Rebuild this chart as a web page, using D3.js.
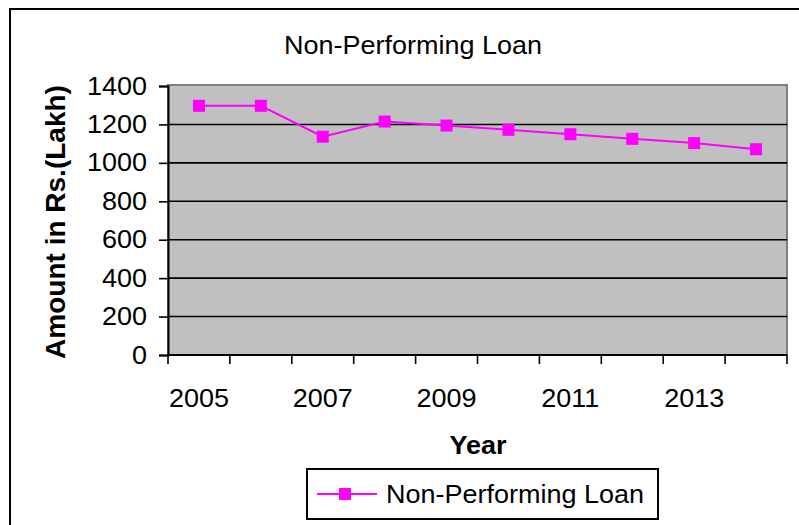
<!DOCTYPE html>
<html>
<head>
<meta charset="utf-8">
<script src="https://cdn.jsdelivr.net/npm/d3@7"></script>
<style>
  html, body { margin: 0; padding: 0; background: #fff; }
  svg { display: block; font-family: Arial, "Liberation Sans", sans-serif; }
</style>
</head>
<body>
<svg id="chart" width="799" height="525"></svg>
<script>
// Non-performing loan amounts, Rs. lakh, by year
const years = [2005, 2006, 2007, 2008, 2009, 2010, 2011, 2012, 2013, 2014];
const npl = [1297, 1297, 1136, 1215, 1194, 1172, 1149, 1125, 1103, 1071];
const yTicks = [0, 200, 400, 600, 800, 1000, 1200, 1400];
const xLabelYears = [2005, 2007, 2009, 2011, 2013];
const seriesName = "Non-Performing Loan";

const svg = d3.select("#chart");
const FS = 25;              // base text size
const SX = 1.08;            // horizontal stretch of the text glyphs
const plot = { left: 168, right: 787, top: 86, bottom: 355 };

const x = d3.scaleBand().domain(years).range([plot.left, plot.right]).padding(0);
const y = d3.scaleLinear().domain([0, 1400]).range([plot.bottom, plot.top]);

// outer frame
svg.append("rect")
  .attr("x", 10).attr("y", 9).attr("width", 800).attr("height", 530)
  .attr("fill", "#fff").attr("stroke", "#000").attr("stroke-width", 2);

// title
svg.append("text")
  .attr("transform", `translate(413,54) scale(${SX},1)`)
  .attr("text-anchor", "middle")
  .attr("font-size", FS)
  .attr("fill", "#000")
  .text("Non-Performing Loan");

// plot background
svg.append("rect")
  .attr("x", plot.left).attr("y", plot.top - 1)
  .attr("width", plot.right - plot.left).attr("height", plot.bottom - plot.top + 1)
  .attr("fill", "#c0c0c0").attr("stroke", "#808080").attr("stroke-width", 2);

// gridlines
svg.append("g").selectAll("line")
  .data(yTicks.filter(d => d > 0 && d < 1400))
  .join("line")
  .attr("x1", plot.left).attr("x2", plot.right)
  .attr("y1", d => y(d)).attr("y2", d => y(d))
  .attr("stroke", "#000").attr("stroke-width", 1.6);

// y axis
const yAxis = svg.append("g")
  .attr("transform", `translate(${plot.left},0)`)
  .call(d3.axisLeft(y).tickValues(yTicks).tickFormat(d3.format("d"))
    .tickSize(9).tickPadding(12));
yAxis.select(".domain").attr("stroke", "#000").attr("stroke-width", 2);
yAxis.selectAll(".tick line").attr("stroke", "#000").attr("stroke-width", 1.6);
yAxis.selectAll(".tick text")
  .attr("font-size", FS).attr("font-family", 'Arial, "Liberation Sans", sans-serif')
  .attr("fill", "#000")
  .each(function () {
    const t = d3.select(this);
    const tx = +t.attr("x");
    t.attr("x", 0).attr("transform", `translate(${tx},0) scale(${SX},1)`);
  });

// x axis: baseline, boundary ticks, every other year labelled
svg.append("line")
  .attr("x1", plot.left - 1).attr("x2", plot.right)
  .attr("y1", plot.bottom).attr("y2", plot.bottom)
  .attr("stroke", "#000").attr("stroke-width", 2);
const edges = years.map(d => x(d)).concat([x.range()[1]]);
svg.append("g").selectAll("line")
  .data(edges)
  .join("line")
  .attr("x1", d => d).attr("x2", d => d)
  .attr("y1", plot.bottom).attr("y2", plot.bottom + 9)
  .attr("stroke", "#000").attr("stroke-width", 1.6);
svg.append("g").selectAll("text")
  .data(xLabelYears)
  .join("text")
  .attr("transform", d => `translate(${x(d) + x.bandwidth() / 2},407) scale(${SX},1)`)
  .attr("text-anchor", "middle")
  .attr("font-size", FS)
  .attr("fill", "#000")
  .text(d => d);

// axis titles
svg.append("text")
  .attr("transform", `translate(478,454) scale(${SX},1)`)
  .attr("text-anchor", "middle")
  .attr("font-size", FS).attr("font-weight", "bold")
  .attr("fill", "#000")
  .text("Year");
svg.append("text")
  .attr("transform", "translate(65,222) rotate(-90)")
  .attr("text-anchor", "middle")
  .attr("font-size", 28).attr("font-weight", "bold")
  .attr("fill", "#000")
  .text("Amount in Rs.(Lakh)");

// series line and markers
const cx = d => x(d) + x.bandwidth() / 2;
const pts = years.map((yr, i) => [cx(yr), y(npl[i])]);
svg.append("path")
  .attr("d", d3.line()(pts))
  .attr("fill", "none").attr("stroke", "#ff00ff").attr("stroke-width", 2);
svg.append("g").selectAll("rect")
  .data(pts)
  .join("rect")
  .attr("x", d => d[0] - 6).attr("y", d => d[1] - 6)
  .attr("width", 12).attr("height", 12)
  .attr("fill", "#ff00ff");

// legend
const lg = svg.append("g");
lg.append("rect")
  .attr("x", 307).attr("y", 469).attr("width", 351).attr("height", 50)
  .attr("fill", "#fff").attr("stroke", "#000").attr("stroke-width", 2);
lg.append("line")
  .attr("x1", 317).attr("x2", 377).attr("y1", 494).attr("y2", 494)
  .attr("stroke", "#ff00ff").attr("stroke-width", 2);
lg.append("rect")
  .attr("x", 339).attr("y", 488).attr("width", 12).attr("height", 12)
  .attr("fill", "#ff00ff");
lg.append("text")
  .attr("transform", `translate(386,503) scale(${SX},1)`)
  .attr("font-size", FS)
  .attr("fill", "#000")
  .text(seriesName);
</script>
</body>
</html>
